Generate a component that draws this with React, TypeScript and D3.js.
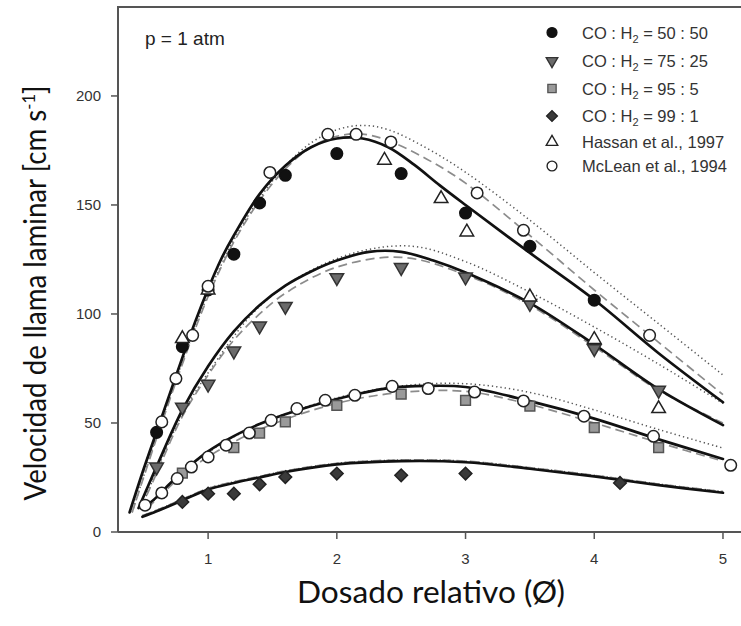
import React from 'react';
import * as d3 from 'd3';

const W = 741;
const H = 626;

const xTicks = [1, 2, 3, 4, 5];
const yTicks = [0, 50, 100, 150, 200];

const legendLabels = ['CO : H|2| = 50 : 50', 'CO : H|2| = 75 : 25', 'CO : H|2| = 95 : 5', 'CO : H|2| = 99 : 1', 'Hassan et al., 1997', 'McLean et al., 1994'];

// model curves [phi, S_L]
const solid5050 = [[0.39, 9], [0.5, 29], [0.6, 46], [0.7, 63], [0.8, 80], [0.9, 96.5], [1.0, 111.5], [1.1, 125], [1.2, 136], [1.4, 155], [1.6, 168], [1.8, 176.5], [2.0, 180.5], [2.2, 180.5], [2.4, 176.5], [2.6, 168.5], [2.8, 159], [3.0, 150], [3.5, 128], [4.0, 106.5], [4.5, 82], [5.0, 59.5]];
const dashed5050 = [[0.41, 9], [0.6, 43], [0.8, 77], [1.0, 108], [1.2, 133], [1.4, 152], [1.6, 166.5], [1.8, 176.5], [2.0, 181.5], [2.2, 182.5], [2.4, 179.5], [2.7, 171], [3.0, 160], [3.5, 136], [4.0, 111], [4.5, 87], [5.0, 63]];
const dotted5050 = [[0.41, 9], [0.6, 44], [0.8, 78], [1.0, 109], [1.2, 134], [1.4, 153], [1.6, 168], [1.8, 178.5], [2.0, 184.5], [2.2, 186.5], [2.4, 184.5], [2.7, 176], [3.0, 165], [3.5, 143], [4.0, 119], [4.5, 95.5], [5.0, 72]];

const solid7525 = [[0.46, 11], [0.6, 30], [0.8, 56], [1.0, 76], [1.2, 92], [1.4, 104], [1.6, 113], [1.8, 119.5], [2.0, 124.5], [2.25, 128.5], [2.5, 128.5], [2.75, 124.5], [3.0, 119], [3.5, 105], [4.0, 86], [4.5, 65.5], [5.0, 49]];
const dashed7525 = [[0.48, 11], [0.6, 27], [0.8, 53], [1.0, 72], [1.2, 88], [1.4, 100], [1.6, 109.5], [2.0, 121.5], [2.5, 126], [3.0, 118], [3.5, 104], [4.0, 85], [4.5, 65], [5.0, 50]];
const dotted7525 = [[0.48, 11], [0.6, 28], [0.8, 54], [1.0, 73], [1.4, 103.5], [1.8, 120], [2.2, 129], [2.6, 131], [3.0, 124], [3.5, 110], [4.0, 94], [4.5, 77], [5.0, 59]];

const solid955 = [[0.51, 11.5], [0.6, 16], [0.7, 22], [0.8, 27.5], [1.0, 37], [1.2, 44], [1.4, 49.5], [1.6, 54], [2.0, 61], [2.4, 66], [2.7, 67], [3.0, 66.5], [3.5, 60], [4.0, 52], [4.5, 42.5], [5.0, 33.5]];
const dashed955 = [[0.53, 11], [0.8, 26], [1.0, 34.5], [1.4, 47], [2.0, 59], [2.5, 64], [3.0, 64.5], [3.5, 58.5], [4.0, 50], [4.5, 41], [5.0, 32.5]];
const dotted955 = [[0.53, 11.5], [0.8, 27], [1.0, 36.5], [1.4, 49.5], [2.0, 61.5], [2.5, 67], [3.0, 68], [3.5, 64], [4.0, 56], [4.5, 47], [5.0, 38.5]];

const solid991 = [[0.49, 7], [0.6, 9.5], [0.8, 14.5], [1.0, 19.5], [1.2, 22.5], [1.4, 25], [1.6, 27.5], [2.0, 31], [2.5, 32.5], [3.0, 32], [3.5, 29], [4.0, 25.5], [4.5, 21.5], [5.0, 18]];
const dashed991 = [[0.49, 7.5], [0.6, 10], [0.8, 15], [1.0, 20], [1.2, 23], [1.4, 25.5], [1.6, 28], [2.0, 31.5], [2.5, 33], [3.0, 32.5], [3.5, 29.5], [4.0, 26], [4.5, 22], [5.0, 18.5]];
const dotted991 = [[0.49, 7.5], [0.6, 10], [0.8, 15], [1.0, 20], [1.2, 23], [1.4, 25.5], [1.6, 28], [2.0, 31.5], [2.5, 33], [3.0, 32.5], [3.5, 29.5], [4.0, 26], [4.5, 22], [5.0, 18.5]];

// measurements
const pts5050 = [[0.6, 45.7], [0.8, 85], [1.0, 111], [1.2, 127.4], [1.4, 150.9], [1.6, 163.6], [2.0, 173.6], [2.5, 164.4], [3.0, 146.3], [3.5, 131], [4.0, 106.3]];
const pts7525 = [[0.6, 29.8], [0.8, 57.3], [1.0, 67.8], [1.2, 83], [1.4, 94.5], [1.6, 103.5], [2.0, 116.7], [2.5, 121.3], [3.0, 117], [3.5, 104.8], [4.0, 84.1], [4.5, 65]];
const pts955 = [[0.8, 27], [1.2, 38.7], [1.4, 45.4], [1.6, 50.5], [2.0, 58.1], [2.5, 63.2], [3.0, 60.4], [3.5, 57.7], [4.0, 47.9], [4.5, 38.7]];
const pts991 = [[0.8, 13.8], [1.0, 17.6], [1.2, 17.6], [1.4, 21.9], [1.6, 25.2], [2.0, 26.8], [2.5, 26], [3.0, 26.8], [4.2, 22.5]];
const ptsHassan = [[0.8, 88.7], [1.0, 111], [2.37, 170.5], [2.81, 152.9], [3.01, 137.6], [3.5, 107.8], [4.0, 88.3], [4.5, 56.6]];
const ptsMcLean = [[0.64, 50.5], [0.75, 70.4], [0.88, 90.2], [1.0, 112.7], [1.48, 164.9], [1.93, 182.4], [2.15, 182.4], [2.42, 178.9], [3.09, 155.5], [3.45, 138.4], [4.43, 90.2],
  [0.51, 12.3], [0.64, 17.9], [0.76, 24.5], [0.87, 29.8], [1.0, 34.4], [1.14, 39.8], [1.32, 45.4], [1.49, 51.2], [1.69, 56.6], [1.91, 60.4], [2.14, 62.7], [2.43, 66.8], [2.71, 65.8], [3.07, 64.2], [3.45, 60.1], [3.92, 53.1], [4.46, 43.9], [5.06, 30.6]];

const x = d3.scaleLinear().domain([0.3, 5.14]).range([118, 741]);
const y = d3.scaleLinear().domain([0, 240.8]).range([532, 7]);

const line = d3.line<number[]>().x(d => x(d[0])).y(d => y(d[1])).curve(d3.curveCatmullRom.alpha(0.5));

const sym = {
  circle: d3.symbol().type(d3.symbolCircle).size(105)(),
  tri: d3.symbol().type(d3.symbolTriangle).size(80)(),
  square: d3.symbol().type(d3.symbolSquare).size(95)(),
  diamond: d3.symbol().type(d3.symbolSquare).size(80)(),
};

const styles = {
  c5050: { d: sym.circle, rot: 0, fill: '#111', stroke: '#111' },
  c7525: { d: sym.tri, rot: 180, fill: '#6b6b6b', stroke: '#333' },
  c955: { d: sym.square, rot: 0, fill: '#9a9a9a', stroke: '#555' },
  c991: { d: sym.diamond, rot: 45, fill: '#3a3a3a', stroke: '#222' },
  hassan: { d: sym.tri, rot: 0, fill: '#fff', stroke: '#222' },
  mclean: { d: sym.circle, rot: 0, fill: '#fff', stroke: '#222' },
};

const Markers = ({ data, st }: any) => (
  <g>
    {data.map((p: number[], i: number) => (
      <path key={i} d={st.d} transform={`translate(${x(p[0])},${y(p[1])}) rotate(${st.rot})`} fill={st.fill} stroke={st.stroke} strokeWidth={1.5} />
    ))}
  </g>
);

const Legend = () => {
  const keys = ['c5050', 'c7525', 'c955', 'c991', 'hassan', 'mclean'];
  const rowsY = [32.5, 61, 88.5, 116, 142, 166];
  return (
    <g fontFamily="Liberation Sans, Arial, sans-serif" fontSize={16.5} fill="#333">
      {keys.map((k, i) => {
        const st = (styles as any)[k];
        const parts = legendLabels[i].split('|');
        return (
          <g key={k}>
            <path d={st.d} transform={`translate(552,${rowsY[i]}) rotate(${st.rot}) scale(0.85)`} fill={st.fill} stroke={st.stroke} strokeWidth={1.6} />
            <text x={582} y={rowsY[i] + 6}>
              {parts.length === 3 ? (
                <>
                  {parts[0]}
                  <tspan dy={4} fontSize={11}>{parts[1]}</tspan>
                  <tspan dy={-4}>{parts[2]}</tspan>
                </>
              ) : parts[0]}
            </text>
          </g>
        );
      })}
    </g>
  );
};

export default function App() {
  return (
    <div style={{ position: 'absolute', left: 0, top: 0, width: W, height: H, background: '#fff' }}>
      <svg width={W} height={H} style={{ display: 'block' }}>
        <rect width={W} height={H} fill="#fff" />
        {/* frame */}
        <path d={`M118,532 L118,7 L760,7`} fill="none" stroke="#555" strokeWidth={2} />
        <line x1={118} x2={760} y1={532} y2={532} stroke="#555" strokeWidth={2} />
        {yTicks.map(t => (
          <g key={t}>
            <line x1={111} x2={118} y1={y(t)} y2={y(t)} stroke="#555" strokeWidth={1.5} />
            <text x={101} y={y(t) + 5} textAnchor="end" fontFamily="Liberation Sans, Arial, sans-serif" fontSize={15} fill="#333">{t}</text>
          </g>
        ))}
        {xTicks.map(t => (
          <g key={t}>
            <line x1={x(t)} x2={x(t)} y1={532} y2={539} stroke="#555" strokeWidth={1.5} />
            <text x={x(t)} y={564} textAnchor="middle" fontFamily="Liberation Sans, Arial, sans-serif" fontSize={15} fill="#333">{t}</text>
          </g>
        ))}

        {/* model curves */}
        {[dotted5050, dotted7525, dotted955, dotted991].map((c, i) => (
          <path key={'dt' + i} d={line(c as any) || ''} fill="none" stroke="#555" strokeWidth={1.5} strokeDasharray="1.3,3" />
        ))}
        {[dashed5050, dashed7525, dashed955, dashed991].map((c, i) => (
          <path key={'ds' + i} d={line(c as any) || ''} fill="none" stroke="#8c8c8c" strokeWidth={1.7} strokeDasharray="9,5" />
        ))}
        {[solid5050, solid7525, solid955, solid991].map((c, i) => (
          <path key={'s' + i} d={line(c as any) || ''} fill="none" stroke="#111" strokeWidth={2.7} strokeLinecap="round" />
        ))}

        <Markers data={pts991} st={styles.c991} />
        <Markers data={pts955} st={styles.c955} />
        <Markers data={pts7525} st={styles.c7525} />
        <Markers data={pts5050} st={styles.c5050} />
        <Markers data={ptsHassan} st={styles.hassan} />
        <Markers data={ptsMcLean} st={styles.mclean} />

        <text x={145} y={45} fontFamily="Liberation Sans, Arial, sans-serif" fontSize={19} fill="#222">p = 1 atm</text>
        <Legend />

        <text x={431} y={603} textAnchor="middle" fontFamily="Lato, 'Open Sans', sans-serif" fontSize={30} fill="#111" textLength={268} lengthAdjust="spacingAndGlyphs">Dosado relativo (Ø)</text>
        <text transform="translate(46,293) rotate(-90)" textAnchor="middle" fontFamily="Lato, 'Open Sans', sans-serif" fontSize={30} fill="#111" textLength={415} lengthAdjust="spacingAndGlyphs">
          Velocidad de llama laminar [cm s<tspan dy={-11} fontSize={18}>-1</tspan><tspan dy={11}>]</tspan>
        </text>
      </svg>
    </div>
  );
}
